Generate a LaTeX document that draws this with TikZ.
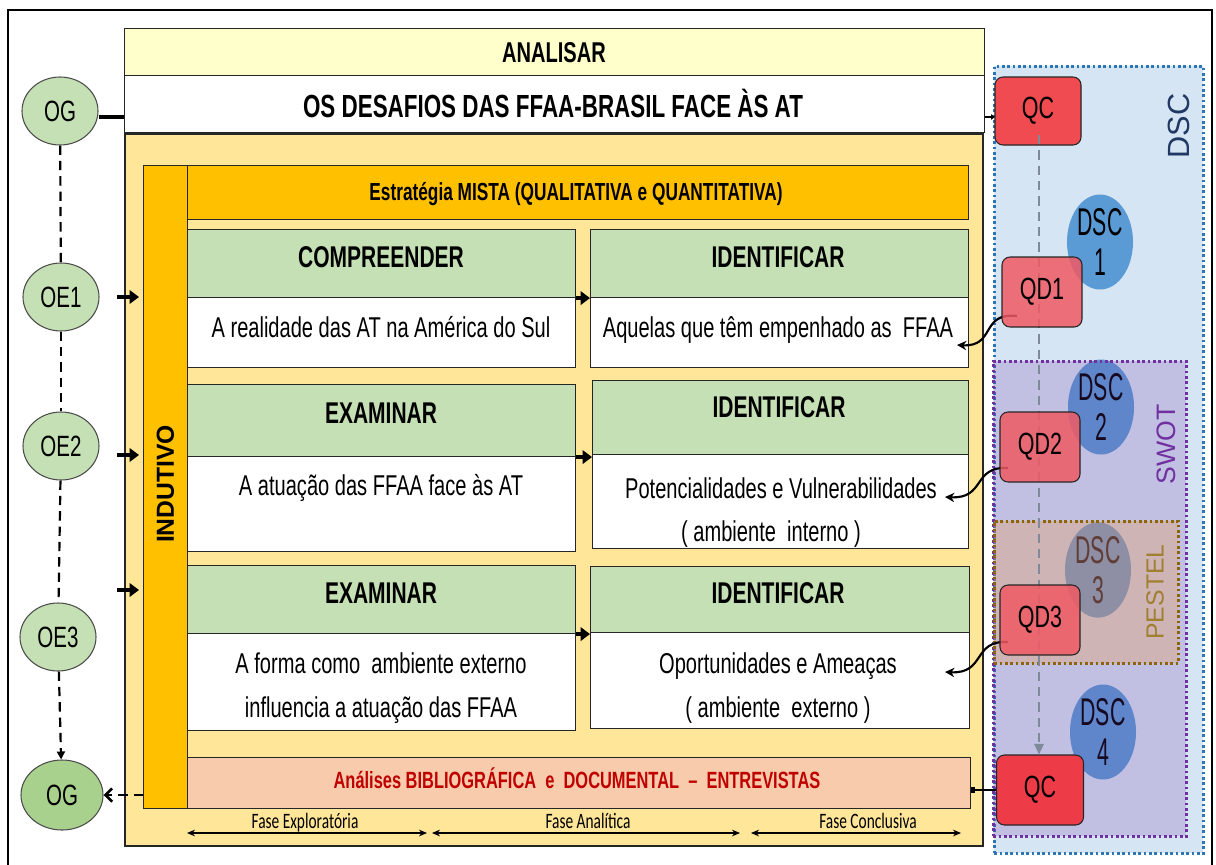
\documentclass[tikz,border=0pt]{standalone}
\usepackage{fontspec}
\setmainfont[FakeStretch=0.7]{Liberation Sans}
\newfontfamily\plainsans{Liberation Sans}
\newfontfamily\circfont[FakeStretch=0.55]{Liberation Sans}
\newfontfamily\phasefont[FakeStretch=0.7]{Carlito}
\usepackage{tikz}
\usetikzlibrary{arrows.meta}
\usetikzlibrary{positioning}
\usetikzlibrary{shapes.geometric}

\definecolor{analisarcor}{HTML}{FFFFCC}
\definecolor{painelcor}{HTML}{FFE699}
\definecolor{laranja}{HTML}{FFC000}
\definecolor{verdeclaro}{HTML}{C5E0B4}
\definecolor{verdeog}{HTML}{A9D18E}
\definecolor{salmao}{HTML}{F8CBAD}
\definecolor{vermelhotxt}{HTML}{C00000}
\definecolor{dscfundo}{HTML}{D6E5F3}
\definecolor{dscborda}{HTML}{2E75B6}
\definecolor{dsctxt}{HTML}{1F3864}
\definecolor{swotcor}{HTML}{7030A0}
\definecolor{pestelcor}{HTML}{E8A060}
\definecolor{pestelborda}{HTML}{8C6400}
\definecolor{pesteltxt}{HTML}{A08030}
\definecolor{qccor}{HTML}{EF4B50}
\definecolor{qdcor}{HTML}{F05A64}
\definecolor{qcbcor}{HTML}{EE3B48}
\definecolor{azulcirc}{HTML}{5B9BD5}
\definecolor{cinzalinha}{HTML}{7F8A99}

\newdimen\px \px=0.75pt

\newcommand{\fonttitulo}{\bfseries\fontsize{24}{24}\selectfont}
\newcommand{\fontanalisar}{\bfseries\fontsize{21.5}{21.5}\selectfont}
\newcommand{\fontcabec}{\bfseries\fontsize{22.5}{22.5}\selectfont}
\newcommand{\fontcorpo}{\fontsize{21.5}{21.5}\selectfont}

\tikzset{box/.style={draw=black!85, line width=0.8pt, anchor=north west, inner sep=0pt}}
\tikzset{hdrbox/.style={box, fill=verdeclaro}}
\tikzset{txtbox/.style={box, fill=white}}
\tikzset{cabec/.style={anchor=base, inner sep=0pt, font=\fontcabec}}
\tikzset{corpo/.style={anchor=base, inner sep=0pt, font=\fontcorpo}}
\tikzset{objetivo/.style={ellipse, draw=black!70, line width=0.8pt, fill=verdeclaro, minimum width=76*\px, minimum height=68*\px, inner sep=0pt, font=\fontsize{22}{22}\selectfont}}
\tikzset{questao/.style={rectangle, rounded corners=6pt, draw=black!85, line width=0.8pt, minimum width=80*\px, minimum height=70*\px, inner sep=0pt, font=\fontsize{23}{23}\selectfont}}
\tikzset{dscnode/.style={ellipse, fill=azulcirc, minimum width=66*\px, minimum height=95*\px, inner sep=0pt, align=center, font=\circfont\fontsize{29}{30}\selectfont}}
\tikzset{regiao/.style={anchor=north west, inner sep=0pt, line width=2.2pt, dash pattern=on 2pt off 2pt}}
\tikzset{entrada/.style={line width=3.5pt, -{Triangle[length=7pt,width=10pt]}}}
\tikzset{tracejado/.style={line width=1.65pt, dash pattern=on 7pt off 4.5pt}}
\tikzset{curva/.style={line width=1.6pt, -{Stealth[length=7pt,width=7pt]}}}
\tikzset{fase/.style={anchor=base, inner sep=0pt, font=\phasefont\fontsize{16.5}{16.5}\selectfont}}
\tikzset{faseseta/.style={line width=0.8pt, {Stealth[length=6pt,width=5pt]}-{Stealth[length=6pt,width=5pt]}}}

\begin{document}
\begin{tikzpicture}[x=0.75pt, y=-0.75pt]

  \useasboundingbox (0,0) rectangle (1216,864);
  \draw[line width=1.6pt] (8,870) -- (8,10) -- (1212,10) -- (1212,870);

  % painel central
  \node[box, fill=analisarcor, minimum width=860*\px, minimum height=47*\px] (analisarBox) at (124,28) {};
  \node[anchor=base, inner sep=0pt, font=\fontanalisar] (analisar) at (554,62) {ANALISAR};
  \node[box, fill=white, minimum width=860*\px, minimum height=57*\px] (tituloBox) at (124,75) {};
  \node[anchor=base, inner sep=0pt, font=\fonttitulo] (titulo) at (553,117) {OS DESAFIOS DAS FFAA-BRASIL FACE ÀS AT};

  \node[box, fill=painelcor, line width=1.5pt, minimum width=858*\px, minimum height=712*\px] (painel) at (124,133) {};
  \node[box, fill=laranja, minimum width=44*\px, minimum height=643*\px] (indutivo) at (143,165) {};
  \node[rotate=90, inner sep=0pt, font=\plainsans\bfseries\fontsize{18.5}{18.5}\selectfont] (indutivoTxt) at (165.5,484) {INDUTIVO};

  \node[box, fill=laranja, minimum width=781*\px, minimum height=54*\px] (estrategia) at (187,165) {};
  \node[anchor=base, inner sep=0pt, font=\bfseries\fontsize{18.5}{18.5}\selectfont] (estrategiaTxt) at (576,200) {Estratégia MISTA (QUALITATIVA e QUANTITATIVA)};

  % caixas
  \foreach \x/\y/\w/\h/\name in {187/229/388/68/h11, 590/229/378/68/h12,
                                 187/384/388/72/h21, 592/380/376/74/h22,
                                 187/565/388/68/h31, 590/566/379/66/h32}
         \node[hdrbox, minimum width=\w*\px, minimum height=\h*\px] (\name) at (\x,\y) {};
  \foreach \x/\y/\w/\h/\name in {187/297/388/70/b11, 590/297/378/70/b12,
                                 187/456/388/95/b21, 592/454/376/94/b22,
                                 187/633/388/97/b31, 590/632/379/96/b32}
         \node[txtbox, minimum width=\w*\px, minimum height=\h*\px] (\name) at (\x,\y) {};

  \node[cabec] (c11) at (381,267) {COMPREENDER};
  \node[cabec] (c12) at (778,267) {IDENTIFICAR};
  \node[cabec] (c21) at (381,423) {EXAMINAR};
  \node[cabec] (c22) at (779,417) {IDENTIFICAR};
  \node[cabec] (c31) at (381,603) {EXAMINAR};
  \node[cabec] (c32) at (778,603) {IDENTIFICAR};

  \node[corpo] (t11) at (381,337) {A realidade das AT na América do Sul};
  \node[corpo] (t12) at (778,337) {Aquelas que têm empenhado as\ \ FFAA};
  \node[corpo] (t21) at (381,495) {A atuação das FFAA face às AT};
  \node[corpo] (t22a) at (781,498) {Potencialidades e Vulnerabilidades};
  \node[corpo] (t22b) at (771,541) {( ambiente\ \ interno )};
  \node[corpo] (t31a) at (381,673) {A forma como\ \ ambiente externo};
  \node[corpo] (t31b) at (381,717) {influencia a atuação das FFAA};
  \node[corpo] (t32a) at (778,673) {Oportunidades e Ameaças};
  \node[corpo] (t32b) at (778,717) {( ambiente\ \ externo )};

  \foreach \a/\b in {h11/h12, h21/h22, h31/h32}
         \draw[entrada, line width=3pt] (\a.south east) -- (\a.south east -| \b.west);

  \node[box, fill=salmao, minimum width=783*\px, minimum height=51*\px] (barra) at (187,757) {};
  \node[anchor=base, inner sep=0pt, text=vermelhotxt, font=\bfseries\fontsize{17.6}{17.6}\selectfont] (barraTxt) at (577,788)
        {Análises BIBLIOGRÁFICA\ \ e\ \ DOCUMENTAL\ \ –\ \ ENTREVISTAS};

  % fases
  \coordinate (f1a) at (187,833); \coordinate (f1b) at (427,833);
  \coordinate (f2a) at (432,833); \coordinate (f2b) at (740,833);
  \coordinate (f3a) at (751,833); \coordinate (f3b) at (961,833);
  \draw[faseseta] (f1a) -- (f1b);
  \draw[faseseta] (f2a) -- (f2b);
  \draw[faseseta] (f3a) -- (f3b);
  \node[fase] (faseExp) at (305,828) {Fase Exploratória};
  \node[fase] (faseAna) at (588,828) {Fase Analítica};
  \node[fase] (faseCon) at (868,828) {Fase Conclusiva};

  % objetivos
  \node[objetivo] (OG) at (60,111) {OG};
  \node[objetivo] (OE1) at (61,297) {OE1};
  \node[objetivo] (OE2) at (61,446) {OE2};
  \node[objetivo] (OE3) at (58,637) {OE3};
  \node[objetivo, fill=verdeog, minimum width=82*\px, minimum height=70*\px] (OGf) at (62,795) {OG};

  \foreach \a/\b in {OG/OE1, OE1/OE2, OE2/OE3}
         \draw[tracejado] (\a) -- (\b);
  \draw[tracejado, -{Triangle[length=6pt,width=6pt]}] (OE3) -- (OGf);

  \coordinate (ogline) at (124,117);
  \draw[line width=3pt] (ogline -| OG.east) -- (ogline);

  \foreach \y/\name in {297/e1, 455/e2, 590/e3} {
         \coordinate (\name s) at (117,\y);
         \coordinate (\name t) at (139,\y);
         \draw[entrada] (\name s) -- (\name t);
  }
  \draw[tracejado, -{Straight Barb[length=5pt,width=10pt,line width=2pt]}] (indutivo.west |- OGf) -- (OGf.east);

  % regioes DSC / SWOT / PESTEL
  \node[regiao, draw=dscborda, fill=dscfundo, minimum width=209*\px, minimum height=787*\px] (regDSC) at (993,65) {};
  \node[rotate=90, inner sep=0pt, text=dsctxt, font=\plainsans\fontsize{23}{23}\selectfont] (dscTxt) at (1179,126) {DSC};

  \node[dscnode] (DSC1) at (1100,242) {DSC\\1};
  \node[dscnode] (DSC2) at (1101,407) {DSC\\2};
  \node[dscnode] (DSC3) at (1098,570) {DSC\\3};
  \node[dscnode] (DSC4) at (1103,732) {DSC\\4};

  \node[regiao, draw=swotcor, fill=swotcor, fill opacity=0.2, minimum width=193*\px, minimum height=475*\px] (regSWOT) at (992,360) {};
  \node[rotate=90, inner sep=0pt, text=swotcor, font=\plainsans\fontsize{20}{20}\selectfont] (swotTxt) at (1166,444) {SWOT};
  \node[regiao, draw=pestelborda, fill=pestelcor, fill opacity=0.35, minimum width=184*\px, minimum height=142*\px] (regPESTEL) at (993,520) {};
  \node[rotate=90, inner sep=0pt, text=pesteltxt, font=\plainsans\fontsize{18.6}{18.6}\selectfont] (pestelTxt) at (1155,592) {PESTEL};

  % questoes
  \node[questao, fill=qccor, minimum width=86*\px, minimum height=68*\px] (QC1) at (1038,111) {QC};
  \coordinate (qcin) at (995,117);
  \draw[line width=1pt, -{Triangle[length=3pt,width=4pt]}] (qcin -| tituloBox.east) -- (qcin);

  \coordinate (cinzaIni) at (1039,135);
  \node[questao, fill=qcbcor, minimum width=87*\px, minimum height=70*\px] (QC2) at (1040,790) {QC};
  \draw[line width=1.6pt, cinzalinha, dash pattern=on 7pt off 4.5pt, -{Triangle[length=8pt,width=7pt]}] (cinzaIni) -- (cinzaIni |- QC2.north);

  \coordinate (q1s) at (1017,316); \coordinate (q1t) at (957,345);
  \coordinate (q2s) at (1008,468); \coordinate (q2t) at (945,497);
  \coordinate (q3s) at (1008,642); \coordinate (q3t) at (945,672);
  \draw[curva] (q1s) .. controls (980,312) and (996,347) .. (q1t);
  \draw[curva] (q2s) .. controls (972,466) and (986,499) .. (q2t);
  \draw[curva] (q3s) .. controls (972,640) and (986,674) .. (q3t);

  \node[questao, fill=qdcor, fill opacity=0.85, text opacity=1] (QD1) at (1042,292) {QD1};
  \node[questao, fill=qdcor, fill opacity=0.85, text opacity=1] (QD2) at (1040,447) {QD2};
  \node[questao, fill=qdcor, fill opacity=0.85, text opacity=1] (QD3) at (1040,620) {QD3};

  \coordinate (qcout) at (QC2.west);
  \draw[line width=1.5pt, {Square[length=3pt,width=4pt]}-] (qcout -| barra.east) -- (qcout);

\end{tikzpicture}
\end{document}
